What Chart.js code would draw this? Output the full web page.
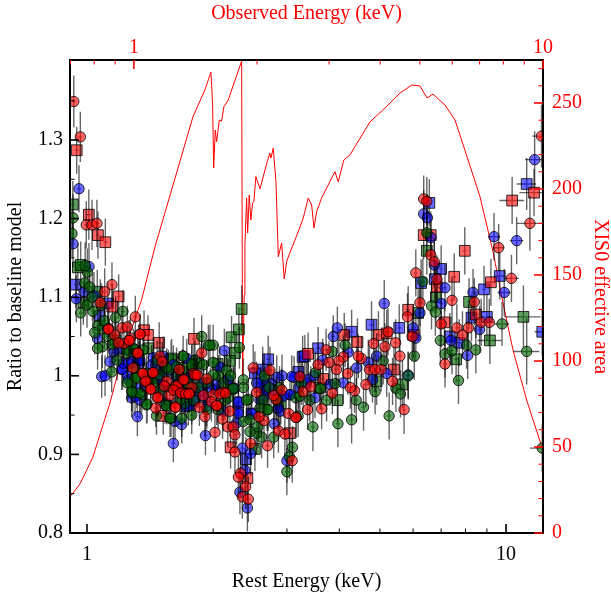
<!DOCTYPE html>
<html>
<head>
<meta charset="utf-8">
<script src="https://cdn.jsdelivr.net/npm/chart.js@4"></script>
<style>
  html, body { margin: 0; padding: 0; background: #ffffff; }
  canvas { display: block; }
</style>
</head>
<body>
<canvas id="ratio-chart" width="611" height="593"></canvas>
<script>
// rows are [rest energy keV, ratio, ratio error, energy error (only where it is wide)]
const redCircles = [
  [.93,1.349,.033],[.964,1.304,.032],[.996,1.192,.03],[1.028,1.192,.032],[1.056,1.194,.03],[1.102,1.107,.03],[1.147,1.116,.028],
  [1.076,1.093,.03],[1.304,1.075,.027],[1.127,1.06,.028],[1.164,1.052,.028],[1.212,1.061,.027],[1.248,1.062,.027],[1.336,1.053,.025],
  [1.269,1.048,.026],[1.34,1.053,.025],[1.26,1.045,.026],[1.225,1.041,.027],[1.324,1.029,.025],[1.493,1.025,.024],[1.512,1.018,.025],
  [1.286,1.01,.026],[1.66,1.008,.024],[1.82,1.002,.025],[1.795,1.003,.024],[1.878,1.029,.028],[1.362,1.003,.024],[1.434,1.004,.024],
  [1.375,.993,.025],[1.549,.993,.023],[1.42,.983,.024],[1.63,.987,.023],[1.696,.995,.024],[1.778,.985,.024],[1.578,.975,.024],
  [1.48,.973,.023],[1.683,.978,.024],[1.754,.978,.023],[1.622,.96,.023],[1.854,.96,.024],[1.459,.959,.024],[1.912,.948,.025],
  [2.02,.928,.025],[1.931,.996,.024],[2.114,.979,.025],[1.895,.975,.024],[2.0,.976,.024],[2.045,.962,.025],[2.193,.955,.026],
  [1.98,.967,.025],[2.106,.945,.025],[2.167,.935,.026],[2.234,.935,.027],[2.254,.925,.027],[2.254,.903,.027],[2.492,1.01,.03],
  [2.732,1.007,.03],[3.221,.999,.027],[2.54,.979,.027],[2.825,.97,.027],[2.79,.975,.027],[2.457,.914,.028],[2.325,.876,.028],
  [2.298,.871,.028],[2.391,.859,.028],[2.348,.846,.028],[2.426,.843,.029],[2.697,.911,.028],[2.862,.93,.028],[2.966,.926,.028],
  [3.088,.892,.028],[2.645,.943,.027],[2.572,.948,.027],[3.16,.947,.026],[3.03,.952,.027],[2.916,.982,.027],[3.28,.98,.026],
  [3.42,.986,.026],[3.63,.958,.026],[3.36,.957,.026],[3.15,.947,.026],[3.72,1.033,.027],[4.52,1.022,.028],[4.44,1.025,.028],
  [4.09,1.024,.027],[3.99,1.019,.027],[3.78,1.017,.027],[3.56,1.014,.027],[4.72,1.008,.028],[5.03,1.008,.028],[4.87,1.008,.028],
  [3.94,1.008,.027],[4.19,1.003,.027],[3.85,.978,.027],[4.35,.981,.028],[4.25,.985,.027],[4.63,.989,.028],[4.83,1.041,.03],
  [5.14,1.037,.03],[5.23,1.056,.03],[5.82,1.075,.03],[6.23,1.093,.03],[6.09,1.131,.03],[5.97,1.05,.03],[5.58,1.025,.03],
  [5.45,1.042,.03],[5.36,.993,.03],[5.71,.957,.031],[6.36,1.225,.03],[6.47,1.222,.031],[6.61,1.154,.03],[6.74,1.145,.03],
  [6.84,1.123,.03],[7.43,1.096,.03],[7.0,1.066,.03],[7.15,1.015,.03],[7.63,1.061,.03],[7.87,1.052,.03],[8.13,1.061,.03],
  [8.4,1.094,.03],[10.3,1.124,.03,.42],[9.6,1.163,.03,.3],[11.4,1.194,.035,.8],[8.72,1.068,.03,.25],[9.12,1.068,.03,.25],[12.15,1.305,.04,.6],
  [1.124,1.059,.028],[1.188,1.042,.027],[1.262,1.045,.026],[1.321,1.029,.025],[1.358,1.003,.024],[1.383,.993,.024],[1.439,1.004,.024],
  [1.419,.983,.024],[1.529,.987,.024],[1.643,.987,.024],[1.607,.982,.024],[1.704,.995,.024],[1.672,.978,.024],[1.72,.977,.024],
  [1.81,1.001,.025],[1.832,1.001,.025],[1.751,.977,.024],[2.076,.977,.026],[2.142,.978,.026],[2.039,.962,.025],[1.627,.96,.024],[1.472,.972,.024]
];
const redSquares = [
  [.945,1.287,.03],[1.01,1.205,.032],[1.062,1.179,.03],[1.106,1.17,.03],[1.19,1.101,.028],[1.149,1.088,.028],[1.368,1.058,.025],
  [1.398,1.052,.025],[1.8,1.047,.027],[1.487,1.042,.026],[1.52,.949,.024],[2.201,.909,.027],[2.414,.87,.028],[3.049,.927,.028],
  [3.37,1.028,.027],[3.66,.996,.027],[4.11,1.052,.028],[4.42,1.043,.03],[4.96,1.052,.03],[5.19,1.054,.03],[5.84,1.084,.03],
  [6.02,1.052,.03],[5.4,1.008,.03],[6.36,1.179,.03],[6.61,1.179,.03],[6.84,1.113,.03],[7.52,1.126,.03],[7.97,1.159,.03],
  [7.13,1.068,.03],[8.47,1.078,.03],[9.2,1.119,.03,.25],[10.34,1.223,.03,.7],[11.66,1.233,.03,.9]
];
const blueCircles = [
  [.957,1.238,.03],[.926,1.168,.03],[1.011,1.139,.03],[.984,1.107,.03],[.943,1.098,.03],[1.039,1.102,.03],[1.06,1.047,.027],
  [1.135,1.018,.026],[1.084,.999,.027],[1.104,1.0,.026],[1.21,1.008,.026],[1.278,.972,.025],[1.319,.948,.025],[1.607,.914,.024],
  [1.917,.924,.025],[1.683,.938,.024],[1.622,.942,.024],[2.127,1.032,.028],[2.837,.998,.028],[3.12,.998,.027],[2.348,.908,.028],
  [2.457,.901,.028],[2.381,.88,.028],[2.317,.852,.028],[2.414,.832,.03],[2.999,.892,.028],[2.798,.939,.027],[1.216,1.008,.026],
  [1.334,1.016,.025],[1.427,1.014,.025],[1.48,.995,.024],[1.52,.986,.024],[1.314,.984,.025],[1.745,.961,.024],[1.81,.969,.024],
  [1.912,.972,.025],[1.607,1.014,.025],[1.73,1.022,.025],[2.076,1.011,.027],[2.167,.995,.027],[2.234,.984,.027],[2.298,.955,.027],
  [2.886,.955,.027],[3.958,1.061,.027],[3.87,1.05,.027],[4.91,1.025,.029],[4.69,1.017,.029],[5.19,1.003,.03],[4.09,.991,.027],
  [3.8,.989,.027],[3.5,.972,.026],[3.37,.995,.026],[3.08,.999,.027],[3.05,.976,.027],[5.12,1.092,.03],[6.36,1.206,.03],
  [6.49,1.201,.03],[6.74,1.141,.03],[7.15,1.112,.03],[7.0,1.092,.03],[6.23,1.08,.03],[6.09,1.048,.03],[6.0,1.061,.03],
  [7.39,1.045,.03],[8.1,1.026,.03],[8.34,1.106,.03],[9.9,1.106,.03,.35],[9.36,1.177,.03,.3],[10.6,1.172,.03,.4],[11.7,1.275,.036,.6],
  [6.62,1.176,.03],[8.65,1.059,.03],[5.84,1.001,.03],
  [1.16,1.03,.026],[1.25,1.0,.025],[1.38,.985,.024],[1.45,1.0,.024],[1.55,1.005,.024],[1.65,.99,.024],[1.7,.975,.024],[1.77,1.0,.024],
  [1.86,.98,.025],[1.97,.985,.025],[2.04,.99,.026],[2.6,.985,.027],[2.66,.975,.027],[2.75,.99,.027],[2.92,1.0,.027],[3.2,.985,.027],
  [3.48,1.0,.027],[3.65,1.02,.027],[4.2,1.03,.028],[4.4,1.01,.028],[4.8,.995,.029],
  [1.221,1.016,.026],[1.255,1.016,.026],[1.278,1.018,.025],[1.338,1.02,.025],[1.44,1.023,.025],[1.521,1.025,.025],[1.255,.995,.025],
  [1.302,.974,.025],[1.338,.969,.024],[1.549,.965,.024],[1.713,.961,.024],[1.778,.962,.024],[1.81,.969,.024],[2.17,.995,.026],
  [2.254,.984,.027],[2.298,.967,.027],[2.298,.952,.027],[2.039,.982,.026],[1.931,.961,.025],[2.114,.955,.026],[2.275,.94,.027],
  [2.68,.982,.027],[2.63,.993,.027],[2.54,.991,.027],[2.785,.982,.027],[2.94,.974,.027],[3.05,.976,.027],[3.34,.991,.027],
  [2.47,.952,.027],[2.586,.969,.027],[2.862,.959,.027],[1.636,.999,.024],[1.493,.995,.024]
];
const blueSquares = [
  [.94,1.116,.03],[1.122,1.092,.028],[1.072,1.076,.028],[2.706,1.021,.03],[2.626,1.008,.029],[3.194,1.005,.027],[3.27,1.024,.027],
  [2.395,.894,.028],[2.516,1.003,.028],[2.298,.966,.027],[2.47,.952,.027],[3.56,1.035,.027],[3.31,1.025,.027],[4.28,1.056,.028],
  [4.775,1.065,.03],[5.56,1.061,.03],[6.27,1.118,.03],[6.56,1.22,.03],[7.0,1.136,.03],[6.76,1.123,.03],[7.34,1.05,.03],[7.73,1.042,.03],
  [8.27,1.074,.03],[8.86,1.11,.03],[9.66,1.127,.03,.3],[9.0,1.075,.03,.25],[11.2,1.244,.033,.6],[12.2,1.056,.03,.5],
  [1.2,1.035,.026],[1.5,1.01,.024],[1.9,.99,.025]
];
const greenCircles = [
  [.926,1.201,.03],[.921,1.181,.03],[1.002,1.132,.03],[.987,1.118,.03],[1.015,1.113,.03],[.966,1.08,.03],[1.033,1.082,.028],
  [1.171,1.074,.027],[1.218,1.082,.027],[1.062,1.064,.028],[1.043,1.055,.028],[1.088,1.037,.027],[1.145,1.005,.026],[1.275,.99,.025],
  [1.302,.998,.025],[1.387,.963,.024],[1.465,.949,.024],[1.587,.946,.024],[1.778,.95,.024],[1.878,1.05,.027],[1.948,1.039,.026],
  [2.0,1.039,.026],[2.31,1.036,.027],[2.79,.922,.027],[3.093,.909,.027],[3.04,.897,.028],[2.999,.878,.03],[2.61,.922,.027],
  [2.54,.927,.027],[2.448,.929,.027],[1.564,1.008,.025],[1.696,1.025,.026],[1.248,.991,.025],[1.286,.978,.025],[1.351,.976,.024],
  [1.392,.964,.024],[1.578,.946,.024],[1.683,.946,.024],[1.535,.963,.024],[1.713,.965,.024],[1.493,1.001,.024],[1.244,1.029,.026],
  [1.29,1.035,.025],[1.86,1.016,.025],[2.152,1.007,.026],[2.0,1.017,.025],[1.965,1.039,.026],[2.361,.995,.027],[2.234,.983,.027],
  [2.426,.97,.027],[2.626,.969,.027],[2.706,.957,.027],[1.931,.957,.025],[2.134,.969,.026],[2.361,.942,.027],[4.13,1.039,.028],
  [3.85,1.031,.027],[5.09,1.019,.03],[3.51,1.004,.027],[3.91,.99,.027],[4.39,.969,.028],[4.87,.98,.029],[4.57,.96,.03],
  [4.28,.944,.03],[3.97,.939,.03],[3.46,.935,.031],[5.26,.949,.03],[3.19,.949,.027],[3.6,.984,.027],[3.73,.969,.027],[3.15,.972,.027],
  [6.33,1.12,.03],[6.04,1.025,.03],[5.84,1.0,.03],[5.46,.984,.03],[5.6,.977,.03],[6.47,1.182,.03],[6.64,1.089,.03],[6.78,1.081,.03],
  [6.97,1.045,.03],[7.15,1.028,.03],[7.43,1.032,.03],[7.7,.994,.03],[8.05,1.039,.03],[8.47,1.033,.03],[9.78,1.066,.028,.4],
  [11.2,1.031,.042,.8],[12.2,.908,.03,.8],
  [1.12,1.05,.027],[1.18,1.02,.026],[1.3,1.01,.025],[1.42,.995,.024],[1.47,1.02,.025],[1.6,.985,.024],[1.65,1.0,.024],[1.74,.99,.024],
  [1.81,1.02,.025],[1.84,.985,.025],[2.06,1.0,.026],[2.2,1.0,.027],[2.65,1.0,.028],[2.72,.985,.028],[2.88,.985,.027],[3.25,.99,.027],
  [1.362,1.033,.025],[1.302,1.033,.025],[1.244,1.033,.026],[1.549,1.01,.025],[1.696,1.025,.025],[1.778,1.014,.025],[1.895,1.014,.025],
  [2.0,1.001,.025],[2.234,.984,.027],[2.361,.985,.027],[2.17,.972,.026],[2.057,.957,.026],[1.795,.969,.024],[1.667,.969,.024],
  [1.549,.962,.024],[1.338,.978,.024],[1.278,.98,.025],[1.309,.997,.025],[2.586,.959,.027],[2.69,.957,.027],[2.404,.969,.027],
  [2.837,.969,.027],[2.448,.944,.027],[2.558,.935,.027],[1.931,.991,.025],[1.636,1.012,.024],[1.44,.991,.024],[1.493,.982,.024],
  [1.387,1.003,.024],[2.114,.991,.026],[3.221,.974,.027],[3.4,.969,.027],
  [.99,1.14,.03],[1.03,1.1,.03],[1.08,1.09,.028],[1.1,1.07,.028],[1.0,1.09,.029],[1.06,1.035,.027],[1.15,1.04,.027]
];
const greenSquares = [
  [.925,1.218,.03],[.951,1.138,.03],[.966,1.141,.03],[1.058,1.107,.028],[.98,1.093,.028],[1.401,1.035,.026],[1.587,1.02,.025],
  [2.213,1.049,.027],[2.304,1.059,.028],[2.339,1.085,.03],[2.254,1.029,.027],[2.193,1.019,.027],[2.516,.907,.028],[1.592,1.022,.025],
  [3.96,.969,.028],[4.91,.993,.03],[5.66,.989,.03],[6.17,1.08,.03],[6.47,1.159,.03],[6.8,1.1,.03],[7.6,1.021,.03],[8.16,1.094,.03],
  [9.15,1.045,.03,.6],[11.0,1.075,.04,1.1],[1.33,1.02,.025],[1.75,1.005,.024],[2.05,1.015,.026],[1.1,1.06,.027],[1.17,1.045,.027],
  [1.78,1.015,.025],[1.69,1.01,.024],[2.9,.965,.027],[3.6,.985,.027]
];

// XIS0 effective area against observed energy
const areaEnergy = [.697,.716,.738,.763,.794,.83,.874,.914,.96,1.044,1.126,1.394,1.491,1.543,1.557,1.567,1.581,1.593,1.617,1.638,1.66,1.7,1.834,1.844,
  1.861,1.868,1.886,1.897,1.914,1.932,1.951,1.965,1.987,2.033,2.118,2.15,2.163,2.191,2.225,2.254,2.297,2.331,2.362,2.389,2.522,2.594,
  2.668,2.72,2.755,2.797,2.877,3.101,3.159,3.26,3.374,3.776,4.109,4.471,4.783,5.003,5.206,5.384,5.76,6.095,6.56,7.015,7.56,7.985,8.447,9.12,9.93];
const areaValues = [20.9,24.4,28.5,35.5,44.2,58.7,75.6,93,110.5,135.5,166.3,241.9,257.6,267.9,250,212.2,234.3,227.5,240.1,239.5,247.9,251.7,274.4,91.3,
  138.4,167.4,194.8,174.4,196.5,182,191.9,192.6,207.2,200,215.9,220.9,218,223.8,204.2,160.6,168.6,147.7,157.7,161,175.2,183.1,
  194.8,190.7,177.3,186.8,194.8,210.1,204.2,216.9,219.8,239,247.1,255.8,260.5,259.9,252.9,255.2,248.8,240.1,216.9,195.5,162.8,133.7,106.4,77.3,50.2];

const restTicks = [1, 10];
const restMinorTicks = [2, 3, 4, 5, 6, 7, 8, 9];
const observedTicks = [1, 10];
const observedMinorTicks = [.7, .8, .9, 2, 3, 4, 5, 6, 7, 8, 9];
const ratioTicks = [.8, .9, 1, 1.1, 1.2, 1.3];
const ratioMinorTicks = [.85, .95, 1.05, 1.15, 1.25, 1.35];
const areaTicks = [0, 50, 100, 150, 200, 250];
const areaMinorTicks = [10, 20, 30, 40, 60, 70, 80, 90, 110, 120, 130, 140, 160, 170, 180, 190, 210, 220, 230, 240, 260, 270];

const RED = '#ff0000';
const BLACK = '#000000';
const BAR_WIDTH_FRACTION = 0.01;

// one broken line holds all the error bars of a series
function errorBars(rows, color, order) {
    const segments = [];
    rows.forEach(row => {
        const [e, y, dy, dE] = row;
        const half = dE !== undefined ? dE : e * BAR_WIDTH_FRACTION;
        segments.push({x: e, y: y - dy}, {x: e, y: y + dy}, {x: e, y: null});
        segments.push({x: e - half, y: y}, {x: e + half, y: y}, {x: e, y: null});
    });
    return {
        type: 'scatter',
        data: segments,
        showLine: true,
        spanGaps: false,
        pointRadius: 0,
        borderColor: color,
        borderWidth: 1.4,
        xAxisID: 'x',
        yAxisID: 'y',
        order: order
    };
}

function markers(rows, style, radius, fill, order) {
    return {
        type: 'scatter',
        data: rows.map(row => ({x: row[0], y: row[1]})),
        pointStyle: style,
        pointRadius: radius,
        pointBackgroundColor: fill,
        pointBorderColor: 'rgba(0,0,0,0.8)',
        pointBorderWidth: 1,
        xAxisID: 'x',
        yAxisID: 'y',
        order: order
    };
}

const BAR_COLOR = 'rgba(0,0,0,0.6)';
const RED_FILL = 'rgba(255,0,0,0.6)';
const BLUE_FILL = 'rgba(0,0,255,0.58)';
const GREEN_FILL = 'rgba(0,100,0,0.62)';

const datasets = [
    {
        type: 'line',
        data: areaEnergy.map((e, i) => ({x: e, y: areaValues[i]})),
        borderColor: RED,
        borderWidth: 1,
        pointRadius: 0,
        tension: 0,
        xAxisID: 'x2',
        yAxisID: 'y2',
        order: 20
    },
    errorBars(blueSquares, BAR_COLOR, 19), markers(blueSquares, 'rect', 7.6, BLUE_FILL, 18),
    errorBars(greenSquares, BAR_COLOR, 17), markers(greenSquares, 'rect', 7.6, GREEN_FILL, 16),
    errorBars(redSquares, BAR_COLOR, 15), markers(redSquares, 'rect', 7.6, RED_FILL, 14),
    errorBars(blueCircles, BAR_COLOR, 13), markers(blueCircles, 'circle', 5.2, BLUE_FILL, 12),
    errorBars(greenCircles, BAR_COLOR, 11), markers(greenCircles, 'circle', 5.2, GREEN_FILL, 10),
    errorBars(redCircles, BAR_COLOR, 9), markers(redCircles, 'circle', 5.2, RED_FILL, 8)
];

function axis(position, color, type, min, max, majors, title, size, titlePadding, tickPadding) {
    return {
        type: type,
        position: position,
        min: min,
        max: max,
        grid: {display: false, drawTicks: false},
        border: {display: true, color: BLACK, width: 2, z: 2},
        ticks: {
            autoSkip: false,
            maxRotation: 0,
            minRotation: 0,
            padding: tickPadding,
            color: color,
            font: {family: '"Liberation Serif", serif', size: 20},
            callback: value => String(+(+value).toFixed(2))
        },
        title: {
            display: true,
            text: title,
            color: color,
            padding: titlePadding,
            font: {family: '"Liberation Serif", serif', size: 20}
        },
        afterBuildTicks: scale => { scale.ticks = majors.map(v => ({value: v})); },
        afterFit: scale => {
            if (position === 'left' || position === 'right') scale.width = size;
            else scale.height = size;
        }
    };
}

// the ticks point into the frame and come in two lengths, the scales only draw them outward
const insideTicks = {
    id: 'insideTicks',
    afterDraw(chart) {
        const {ctx, chartArea, scales} = chart;
        const stroke = (x1, y1, x2, y2, color, width) => {
            ctx.strokeStyle = color;
            ctx.lineWidth = width;
            ctx.beginPath();
            ctx.moveTo(x1, y1);
            ctx.lineTo(x2, y2);
            ctx.stroke();
        };
        const draw = (scale, values, len, width, color, edge) => {
            values.forEach(v => {
                const p = scale.getPixelForValue(v);
                if (edge === 'bottom') stroke(p, chartArea.bottom, p, chartArea.bottom - len, color, width);
                if (edge === 'top') stroke(p, chartArea.top, p, chartArea.top + len, color, width);
                if (edge === 'left') stroke(chartArea.left, p, chartArea.left + len, p, color, width);
                if (edge === 'right') stroke(chartArea.right, p, chartArea.right - len, p, color, width);
            });
        };
        ctx.save();
        draw(scales.x, restTicks, 9, 1.6, BLACK, 'bottom');
        draw(scales.x, restMinorTicks, 4.5, 1, BLACK, 'bottom');
        draw(scales.y, ratioTicks, 9, 1.6, BLACK, 'left');
        draw(scales.y, ratioMinorTicks, 4.5, 1, BLACK, 'left');
        draw(scales.x2, observedTicks, 9, 1.6, RED, 'top');
        draw(scales.x2, observedMinorTicks, 4.5, 1, RED, 'top');
        draw(scales.y2, areaTicks, 9, 1.6, RED, 'right');
        draw(scales.y2, areaMinorTicks, 4.5, 1, RED, 'right');
        ctx.restore();
    }
};

new Chart(document.getElementById('ratio-chart'), {
    data: {datasets: datasets},
    options: {
        responsive: false,
        animation: false,
        devicePixelRatio: 1,
        layout: {padding: 0},
        plugins: {legend: {display: false}, tooltip: {enabled: false}},
        scales: {
            x: axis('bottom', BLACK, 'logarithmic', 0.9108, 12.25, restTicks, 'Rest Energy (keV)', 60, {top: 4, bottom: -1}, 10),
            x2: axis('top', RED, 'logarithmic', 0.698, 10, observedTicks, 'Observed Energy (keV)', 60, {top: 2, bottom: 4}, 0),
            y: axis('left', BLACK, 'linear', 0.8, 1.4018, ratioTicks, 'Ratio to baseline model', 70, {top: 4, bottom: 4}, 7),
            y2: axis('right', RED, 'linear', 0, 275, areaTicks, 'XIS0 effective area', 68, {top: -1, bottom: 0}, 9)
        }
    },
    plugins: [insideTicks]
});
</script>
</body>
</html>
